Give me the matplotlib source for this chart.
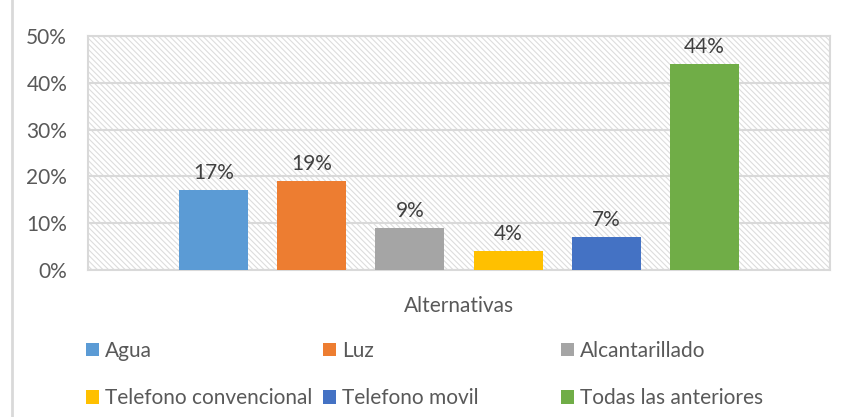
import numpy as np
from matplotlib import pyplot as plt
from matplotlib.patches import Rectangle, Patch
from matplotlib.lines import Line2D

#==============================================================#
# データ
categories = ["Agua", "Luz", "Alcantarillado",
              "Telefono convencional", "Telefono movil", "Todas las anteriores"]
values = [17, 19, 9, 4, 7, 44]
colors = ["#5B9BD5", "#ED7D31", "#A5A5A5", "#FFC000", "#4472C4", "#70AD47"]
yticks = [0, 10, 20, 30, 40, 50]
xlabel = "Alternativas"

#==============================================================#
plt.rcParams['font.family'] = ['Lato', 'DejaVu Sans']
plt.rcParams['hatch.color'] = '#DDDDDD'
plt.rcParams['hatch.linewidth'] = 0.8

FS = 15
fig = plt.figure(figsize=(8.44, 4.17), dpi=100)
ax = fig.add_axes([88 / 844, 1 - 270 / 417, 742 / 844, 234 / 417])

# 背景のハッチング
ax.add_patch(Rectangle((0, 0), 1, 1, transform=ax.transAxes, facecolor='white',
                       edgecolor='#DDDDDD', hatch='\\\\\\\\\\\\', linewidth=0, zorder=0))

x = np.arange(len(values))
bars = ax.bar(x, values, width=0.704, color=colors, zorder=3)

for xi, v in zip(x, values):
    ax.text(xi, v + 1.5, f"{v}%", ha='center', va='bottom', fontsize=FS, color='#404040')

ax.set_xlim(-1.281, 6.281)
ax.set_ylim(0, 50)
ax.set_yticks(yticks)
ax.set_yticklabels([f"{t}%" for t in yticks], fontsize=FS, color='#595959')
ax.set_xticks([])
ax.tick_params(axis='y', length=0, pad=15)
ax.grid(axis='y', color='#D9D9D9', linewidth=1.5, zorder=1)
ax.set_axisbelow(True)
for s in ax.spines.values():
    s.set_color('#D9D9D9')
    s.set_linewidth(1.5)
ax.set_xlabel(xlabel, fontsize=FS, color='#595959', labelpad=19)

# 凡例 (3列を個別に配置)
col_x = [86 / 844, 323 / 844, 561 / 844]
for c in range(3):
    idx = [c, c + 3]
    handles = [Patch(facecolor=colors[i], edgecolor='none') for i in idx]
    leg = fig.legend(handles, [categories[i] for i in idx], loc='upper left',
                     bbox_to_anchor=(col_x[c], 1 - 341 / 417), frameon=False,
                     fontsize=FS, handlelength=0.62, handleheight=0.62,
                     handletextpad=0.3, labelspacing=1.3, borderpad=0,
                     borderaxespad=0)
    for t in leg.get_texts():
        t.set_color('#595959')

# 左端の枠線
fig.add_artist(Line2D([12 / 844, 12 / 844], [0, 1], transform=fig.transFigure,
                      color='#D9D9D9', linewidth=2))

fig.savefig("out.png", dpi=100)
